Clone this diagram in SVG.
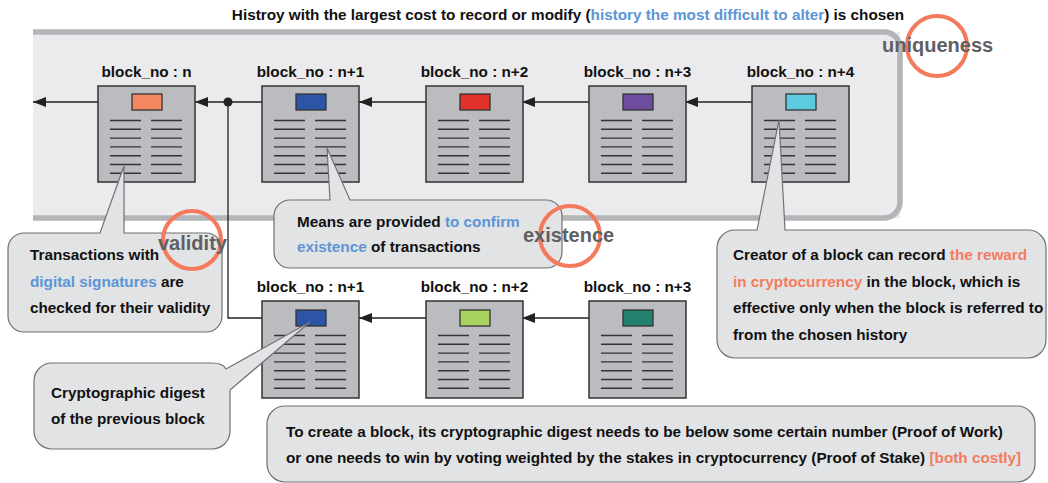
<svg xmlns="http://www.w3.org/2000/svg" width="1048" height="483" viewBox="0 0 1048 483">
<style>
text{font-family:"Liberation Sans",Arial,sans-serif;font-weight:bold;font-size:15.3px;fill:#111}
.lbl{text-anchor:middle}
.blue{fill:#5b95d5}
.sal{fill:#f47c5e}
.big{font-size:20px;fill:#5f6062}
.blk{fill:#bbbcbf;stroke:#333;stroke-width:1.5}
.hd{stroke:#333;stroke-width:1.3}
.ln{stroke:#333;stroke-width:1.4}
.con{stroke:#222;stroke-width:1.3;fill:none}
.call{fill:#e2e3e5;stroke:#707175;stroke-width:1.2}
.ring{fill:none;stroke:#f47a5c;stroke-width:4}
</style>
<defs>
<marker id="ah" markerWidth="14" markerHeight="10" refX="13" refY="5" orient="auto" markerUnits="userSpaceOnUse">
<path d="M0,0 L13,5 L0,10 Z" fill="#222"/>
</marker>
<g id="lines">
<path class="ln" d="M12,34.5h31M53,34.5h31M12,43.3h31M53,43.3h31M12,52.1h31M53,52.1h31M12,60.9h31M53,60.9h31M12,69.7h31M53,69.7h31M12,78.5h31M53,78.5h31M12,87.3h31M53,87.3h31"/>
</g>
</defs>

<!-- panel -->
<g id="panel">
<rect x="33" y="32" width="867" height="186" fill="#ebebed"/>
<path d="M33,32 H884 A16,16 0 0 1 900,48 V202 A16,16 0 0 1 884,218 H33" fill="none" stroke="#b4b5b8" stroke-width="5.5"/>
</g>

<text x="568" y="20" class="lbl">Histroy with the largest cost to record or modify (<tspan class="blue">history the most difficult to alter</tspan>) is chosen</text>

<!-- connectors -->
<g id="connectors">
<line class="con" x1="132" y1="102" x2="33" y2="102" marker-end="url(#ah)"/>
<line class="con" x1="296" y1="102" x2="195" y2="102" marker-end="url(#ah)"/>
<line class="con" x1="460" y1="102" x2="359" y2="102" marker-end="url(#ah)"/>
<line class="con" x1="623" y1="102" x2="522" y2="102" marker-end="url(#ah)"/>
<line class="con" x1="786" y1="102" x2="685" y2="102" marker-end="url(#ah)"/>
<path class="con" d="M228,102 V318 H296"/>
<circle cx="228" cy="102" r="4.5" fill="#222"/>
<line class="con" x1="460" y1="318" x2="359" y2="318" marker-end="url(#ah)"/>
<line class="con" x1="623" y1="318" x2="522" y2="318" marker-end="url(#ah)"/>
</g>

<!-- top row blocks -->
<g id="block-n">
<text x="146.5" y="77" class="lbl">block_no : n</text>
<rect class="blk" x="98" y="86" width="97" height="96"/>
<rect class="hd" x="132" y="94" width="30" height="16" fill="#f4875f"/>
<use href="#lines" x="98" y="86"/>
</g>
<g id="block-n1">
<text x="310.5" y="77" class="lbl">block_no : n+1</text>
<rect class="blk" x="262" y="86" width="97" height="96"/>
<rect class="hd" x="296" y="94" width="30" height="16" fill="#2d55a6"/>
<use href="#lines" x="262" y="86"/>
</g>
<g id="block-n2">
<text x="474.5" y="77" class="lbl">block_no : n+2</text>
<rect class="blk" x="426" y="86" width="97" height="96"/>
<rect class="hd" x="460" y="94" width="30" height="16" fill="#e03228"/>
<use href="#lines" x="426" y="86"/>
</g>
<g id="block-n3">
<text x="637.5" y="77" class="lbl">block_no : n+3</text>
<rect class="blk" x="589" y="86" width="97" height="96"/>
<rect class="hd" x="623" y="94" width="30" height="16" fill="#6e4c9e"/>
<use href="#lines" x="589" y="86"/>
</g>
<g id="block-n4">
<text x="800.5" y="77" class="lbl">block_no : n+4</text>
<rect class="blk" x="752" y="86" width="97" height="96"/>
<rect class="hd" x="786" y="94" width="30" height="16" fill="#5ccbe0"/>
<use href="#lines" x="752" y="86"/>
</g>

<!-- bottom row blocks -->
<g id="fork-n1">
<text x="310.5" y="292" class="lbl">block_no : n+1</text>
<rect class="blk" x="262" y="301" width="97" height="97"/>
<rect class="hd" x="296" y="310" width="30" height="16" fill="#2d55a6"/>
<use href="#lines" x="262" y="301"/>
</g>
<g id="fork-n2">
<text x="474.5" y="292" class="lbl">block_no : n+2</text>
<rect class="blk" x="426" y="301" width="97" height="97"/>
<rect class="hd" x="460" y="310" width="30" height="16" fill="#a8d160"/>
<use href="#lines" x="426" y="301"/>
</g>
<g id="fork-n3">
<text x="637.5" y="292" class="lbl">block_no : n+3</text>
<rect class="blk" x="589" y="301" width="97" height="97"/>
<rect class="hd" x="623" y="310" width="30" height="16" fill="#22826e"/>
<use href="#lines" x="589" y="301"/>
</g>

<!-- callouts -->
<g id="callout-validity">
<path class="call" d="M24,233 H100 L124,166 V233 H206 A16,16 0 0 1 222,249 V316 A16,16 0 0 1 206,332 H24 A16,16 0 0 1 8,316 V249 A16,16 0 0 1 24,233 Z"/>
<text x="30" y="260">Transactions with</text>
<text x="30" y="287"><tspan class="blue">digital signatures</tspan> are</text>
<text x="30" y="313">checked for their validity</text>
</g>
<g id="callout-existence">
<path class="call" d="M290,200 H330 L327,148 L350,200 H546 A16,16 0 0 1 562,216 V252 A16,16 0 0 1 546,268 H290 A16,16 0 0 1 274,252 V216 A16,16 0 0 1 290,200 Z"/>
<text x="297" y="227">Means are provided <tspan class="blue">to confirm</tspan></text>
<text x="297" y="252"><tspan class="blue">existence</tspan> of transactions</text>
</g>
<g id="callout-reward">
<path class="call" d="M735,230 H757 L779,120 L785,230 H1028 A18,18 0 0 1 1046,248 V340 A18,18 0 0 1 1028,358 H735 A18,18 0 0 1 717,340 V248 A18,18 0 0 1 735,230 Z"/>
<text x="733" y="260">Creator of a block can record <tspan class="sal">the reward</tspan></text>
<text x="733" y="287"><tspan class="sal">in cryptocurrency</tspan> in the block, which is</text>
<text x="733" y="313">effective only when the block is referred to</text>
<text x="733" y="340">from the chosen history</text>
</g>
<g id="callout-digest">
<path class="call" d="M52,363 H212 Q223,363 226,369 L310,322 L230,390 V431 A18,18 0 0 1 212,449 H52 A18,18 0 0 1 34,431 V381 A18,18 0 0 1 52,363 Z"/>
<text x="51" y="398">Cryptographic digest</text>
<text x="51" y="424">of the previous block</text>
</g>
<g id="callout-cost">
<rect class="call" x="267" y="406" width="768" height="76" rx="18"/>
<text x="286" y="437">To create a block, its cryptographic digest needs to be below some certain number (Proof of Work)</text>
<text x="286" y="463">or one needs to win by voting weighted by the stakes in cryptocurrency (Proof of Stake) <tspan class="sal">[both costly]</tspan></text>
</g>

<!-- highlight rings -->
<g id="ring-uniqueness">
<circle class="ring" cx="937" cy="46" r="30"/>
<text class="big" x="882" y="52">uniqueness</text>
</g>
<g id="ring-validity">
<circle class="ring" cx="192" cy="240" r="29"/>
<text class="big" x="158" y="250">validity</text>
</g>
<g id="ring-existence">
<circle class="ring" cx="570" cy="236" r="30"/>
<text class="big" x="523" y="242">existence</text>
</g>
</svg>
